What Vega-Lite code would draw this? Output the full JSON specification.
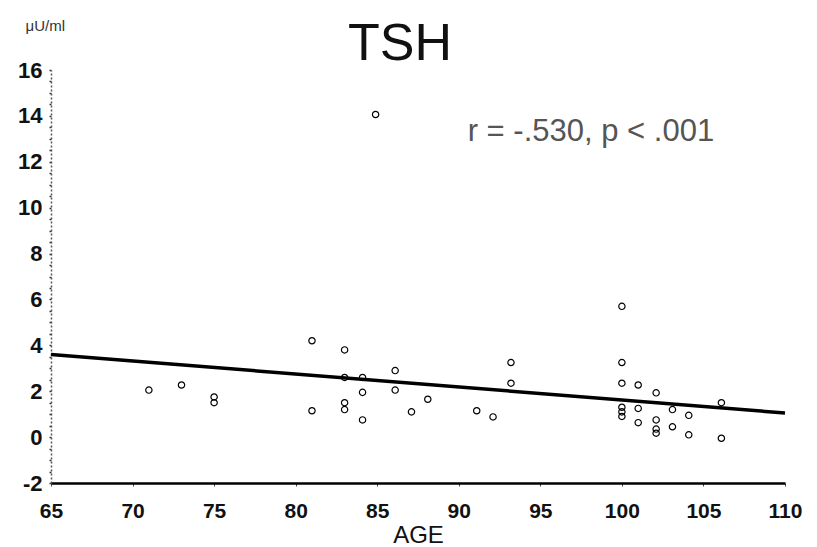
{
  "$schema": "https://vega.github.io/schema/vega-lite/v6.json",
  "width": 734,
  "height": 413,
  "autosize": "none",
  "padding": {"left": 51, "top": 70, "right": 32, "bottom": 64},
  "background": "white",
  "config": {"view": {"stroke": null}, "font": "Liberation Sans"},
  "title": {"text": "TSH", "fontSize": 52, "font": "Liberation Sans", "fontWeight": "normal", "color": "#111", "anchor": "middle", "dx": -18, "offset": -53},
  "datasets": {
    "pts": [
      {"age": 71.0, "tsh": 2.05}, {"age": 73.0, "tsh": 2.27}, {"age": 75.0, "tsh": 1.75}, {"age": 75.0, "tsh": 1.5},
      {"age": 81.0, "tsh": 4.2}, {"age": 81.0, "tsh": 1.15}, {"age": 83.0, "tsh": 3.8}, {"age": 83.0, "tsh": 2.6},
      {"age": 83.0, "tsh": 1.5}, {"age": 83.0, "tsh": 1.2}, {"age": 84.1, "tsh": 2.6}, {"age": 84.1, "tsh": 1.95},
      {"age": 84.1, "tsh": 0.75}, {"age": 84.9, "tsh": 14.06}, {"age": 86.1, "tsh": 2.9}, {"age": 86.1, "tsh": 2.05},
      {"age": 87.1, "tsh": 1.1}, {"age": 88.1, "tsh": 1.65}, {"age": 91.1, "tsh": 1.15}, {"age": 92.1, "tsh": 0.88},
      {"age": 93.2, "tsh": 3.25}, {"age": 93.2, "tsh": 2.35}, {"age": 100.0, "tsh": 5.7}, {"age": 100.0, "tsh": 3.25},
      {"age": 100.0, "tsh": 2.35}, {"age": 100.0, "tsh": 1.3}, {"age": 100.0, "tsh": 0.9}, {"age": 100.0, "tsh": 1.1},
      {"age": 101.0, "tsh": 2.27}, {"age": 101.0, "tsh": 1.25}, {"age": 101.0, "tsh": 0.63}, {"age": 102.1, "tsh": 1.93},
      {"age": 102.1, "tsh": 0.75}, {"age": 102.1, "tsh": 0.35}, {"age": 102.1, "tsh": 0.17}, {"age": 103.1, "tsh": 1.2},
      {"age": 103.1, "tsh": 0.45}, {"age": 104.1, "tsh": 0.95}, {"age": 104.1, "tsh": 0.1}, {"age": 106.1, "tsh": 1.5},
      {"age": 106.1, "tsh": -0.05}
    ],
    "fit": [{"age": 65, "tsh": 3.6}, {"age": 110, "tsh": 1.05}],
    "note": [{"age": 98.1, "tsh": 12.9, "label": "r = -.530, p < .001"}]
  },
  "encoding": {
    "x": {
      "field": "age", "type": "quantitative",
      "scale": {"domain": [65, 110], "nice": false, "zero": false},
      "axis": {
        "title": "AGE", "titleFontSize": 24, "titleFontWeight": "normal", "titleColor": "#111", "titlePadding": 2,
        "values": [65, 70, 75, 80, 85, 90, 95, 100, 105, 110],
        "labelFontSize": 21, "labelFontWeight": "bold", "labelColor": "#111", "labelPadding": 14,
        "labelFlush": false, "labelOverlap": false,
        "tickSize": 3, "tickColor": "#444", "tickWidth": 1,
        "domainColor": "#000", "domainWidth": 2.5, "grid": false
      }
    },
    "y": {
      "field": "tsh", "type": "quantitative",
      "scale": {"domain": [-2, 16], "nice": false, "zero": false},
      "axis": {
        "title": "μU/ml", "titleFontSize": 15, "titleFontWeight": "normal", "titleColor": "#333",
        "titleAngle": 0, "titleAlign": "left", "titleBaseline": "alphabetic", "titleX": -26, "titleY": -40,
        "values": [-2, -1.5, -1, -0.5, 0, 0.5, 1, 1.5, 2, 2.5, 3, 3.5, 4, 4.5, 5, 5.5, 6, 6.5, 7, 7.5, 8, 8.5, 9, 9.5, 10, 10.5, 11, 11.5, 12, 12.5, 13, 13.5, 14, 14.5, 15, 15.5, 16],
        "labelExpr": "datum.value % 2 == 0 ? '' + datum.value : ''",
        "labelFontSize": 22, "labelFontWeight": "bold", "labelColor": "#111", "labelPadding": 7,
        "labelFlush": false, "labelOverlap": false,
        "tickSize": 2, "tickColor": "#333", "tickWidth": 1.5,
        "domainColor": "#555", "domainWidth": 1.5, "domainDash": [2, 2], "grid": false
      }
    }
  },
  "layer": [
    {
      "data": {"name": "fit"},
      "mark": {"type": "line", "color": "#000", "strokeWidth": 3.5},
      "encoding": {}
    },
    {
      "data": {"name": "pts"},
      "mark": {"type": "point", "shape": "circle", "filled": false, "color": "#000", "size": 40, "strokeWidth": 1.2, "opacity": 1}
    },
    {
      "data": {"name": "note"},
      "mark": {"type": "text", "fontSize": 31, "color": "#555", "align": "center", "baseline": "alphabetic", "font": "Liberation Sans"},
      "encoding": {"text": {"field": "label"}}
    }
  ]
}
